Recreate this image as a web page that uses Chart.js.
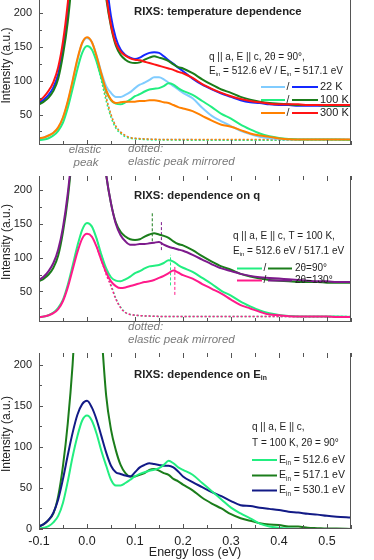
<!DOCTYPE html>
<html><head><meta charset="utf-8">
<script src="https://cdn.jsdelivr.net/npm/chart.js@4/dist/chart.umd.min.js"></script>
<style>
html,body{margin:0;padding:0;background:#fff;width:374px;height:560px;overflow:hidden}
.p{position:absolute;left:0;width:374px}
</style></head><body>
<div class="p" style="top:0;height:176px"><canvas id="c1"></canvas></div>
<div class="p" style="top:176px;height:177px"><canvas id="c2"></canvas></div>
<div class="p" style="top:353px;height:207px"><canvas id="c3"></canvas></div>
<script>
// ---------- data (energy loss in eV, intensity in a.u.) ----------
const energy = [-0.10,-0.09,-0.08,-0.07,-0.06,-0.05,-0.04,-0.03,-0.02,-0.01,0.00,0.01,0.02,0.03,0.04,0.05,0.06,0.07,0.08,0.09,0.10,0.11,0.12,0.13,0.14,0.15,0.16,0.17,0.18,0.19,0.20,0.22,0.24,0.26,0.28,0.30,0.32,0.34,0.36,0.38,0.40,0.42,0.44,0.46,0.48,0.50,0.52,0.55];
const mirrorEnergy = [0.02,0.03,0.04,0.05,0.06,0.07,0.08,0.09,0.10,0.12,0.14,0.16,0.20,0.30,0.40,0.55];

// panel 1: temperature dependence (2theta = 90 deg)
const t22_512  = [14,16,19,23,30,45,68,98,130,155,163,157,137,112,92,82,76,76,79,83,89,94,97,101,105,105,102,97,92,87,82,74,60,48,40,33,26,21,17,15,14,13,13,13,13,13,13,13];
const t22_517  = [67,72,79,90,110,148,200,275,370,445,465,450,400,320,250,195,163,146,138,134,132,134,138,141,142,141,136,130,125,119,114,103,94,87,81,76,71,68,67,65,64,64,63,63,63,63,63,63];
const t100_512 = [12,13,15,19,26,38,60,88,117,141,151,146,128,104,84,71,66,65,68,72,77,80,84,87,88,89,92,96,94,89,85,79,70,61,51,44,35,28,22,18,15.5,14,13,13,13,13,13,12.5];
const t100_517 = [65,69,75,85,103,138,187,260,350,430,450,430,375,290,222,180,152,138,131,127,126,127,131,134,136,134,132,129,124,120,118,111,102,94,87,82,76,72,69,67,66,65,64,64,64,63,63,63];
const t300_512 = [15,16,19,23,31,46,70,100,132,156,164,157,136,110,86,72,67,68,69,69,69,70,70,71,71,70,68,67,64,61,59,55,48,41,35,32,27,22,19,17,14.5,13.5,13,13,13,13,13,13];
const t300_517 = [70,76,85,98,120,158,215,290,380,450,470,450,390,300,228,182,155,143,137,133,131,130,128,126,124,122,120,118,116,113,111,104,95,88,82,77,73,70,68,66,65,65,65,64,64,64,64,64];
const mir22  = [137,110,76,50,33,24,19,16,15,14,13.5,13,13,12.5,12.5,12.5];
const mir100 = [128,100,70,46,30,22,17,15,14,13,12.5,12.5,12,12,12,12];
const mir300 = [136,108,75,50,33,24,19,16,15,14,13.5,13,13,13,13,13];

// panel 2: q dependence (T = 100 K); 2theta = 90 deg spectra are the 100 K spectra above
const q90_512  = t100_512;
const q90_517  = t100_517;
const q130_512 = [12,13,15,18,24,36,56,82,108,128,135,131,116,96,78,65,58,55,56,58,60,62,64,65,67,70,73,77,81,78,74,69,61,54,47,38,30,25,20,16,15,13.5,13,13,13,13,12.5,12.5];
const q130_517 = [67,72,80,92,112,145,195,265,355,430,450,430,370,285,222,180,150,133,124,119,119,120,120,121,122,123,119,116,114,112,110,104,97,90,84,80,76,73,71,70,69,68,67,66,65,65,64,64];
const mirq90  = [128,104,80,60,40,27,19,16,15,14,13.5,13,13,13,13,13];
const mirq130 = [116,96,75,58,39,26,19,16,15,14,13.5,13,13,13,13,12.5];
const markE    = [0.136,0.155,0.174,0.183];
const markLow  = [124,111,59,45];
const markHigh = [167,154,104,87];

// panel 3: incident energy dependence
const ein512 = [0.5,1.5,3.5,8,16,32,58,88,113,132,138,132,116,95,77,60,53,53,56,60,64,67,69,71,72,74,78,83,80,75,72,66,56,46,36,26,19,13,6.5,3,1.5,0.5,0,0,0,0,0,0];
const ein517 = [3,6,11,19,40,77,129,200,300,400,430,400,320,240,162,121,96,78,68,64,64,66,68,72,73,71,68,66,61,58,54,47,38,31,25,18,13,10,7,5.5,5,3,3,1.5,1,0.5,0.5,0];
const ein530 = [3,6,11,20,36,61,90,117,139,152,156,148,133,113,93,77,69,67,65,64,69,75,78,80,79,78,77,77,75,70,64,57,51,45,40,34,29,28,26,24.5,23,21,20,18.5,17.5,16,15,14];

const xTickVals = [-0.1,0,0.1,0.2,0.3,0.4,0.5];
const yTicks12 = [50,100,150,200];
const yTicks3 = [0,50,100,150,200];

// ---------- colours ----------
const C = {lblue:'#80ccff', blue:'#1428ff', lgreen:'#22ee80', dgreen:'#1b7d1b', orange:'#ff8000', red:'#ff1414',
           pink:'#ff1a8a', purple:'#7d1a8c', navy:'#121a86'};
const FF = '"Liberation Sans", Arial, sans-serif';
Chart.defaults.font.family = FF;

const pts = (xs, ys) => xs.map((x,i)=>({x, y: ys[i]}));
const line = (xs, ys, color, extra={}) => Object.assign({data: pts(xs, ys), borderColor: color, borderWidth: 2, pointRadius: 0, cubicInterpolationMode: 'monotone', fill: false}, extra);
const dotted = (ys, color) => line(mirrorEnergy, ys, color, {borderWidth: 1.5, borderDash: [2,2]});
const marker = (i, color) => ({data: [{x: markE[i], y: markLow[i]}, {x: markE[i], y: markHigh[i]}], borderColor: color, borderWidth: 1, borderDash: [3,2], pointRadius: 0, tension: 0});

function rich(ctx, x, y, parts, size, weight) {
  let cx = x;
  ctx.textAlign = 'left'; ctx.textBaseline = 'middle';
  for (const [t, sub] of parts) {
    ctx.font = (weight||'') + ' ' + (sub ? (size*0.6).toFixed(1) : size) + 'px ' + FF;
    ctx.fillText(t, cx, sub ? y + size*0.32 : y);
    cx += ctx.measureText(t).width;
  }
  return cx;
}
function text(ctx, t, x, y, size, opts={}) {
  ctx.font = (opts.style||'') + ' ' + (opts.weight||'') + ' ' + size + 'px ' + FF;
  ctx.fillStyle = opts.color || '#222';
  ctx.textAlign = opts.align || 'left'; ctx.textBaseline = 'middle';
  ctx.fillText(t, x, y);
}
function hline(ctx, x1, x2, y, color) {
  ctx.strokeStyle = color; ctx.lineWidth = 2; ctx.setLineDash([]);
  ctx.beginPath(); ctx.moveTo(x1, y); ctx.lineTo(x2, y); ctx.stroke();
}

function frame(chart, topTicks) {
  const {ctx, chartArea: a, scales: {x, y}} = chart;
  ctx.save();
  ctx.strokeStyle = '#555'; ctx.lineWidth = 1; ctx.setLineDash([]);
  ctx.beginPath();
  ctx.moveTo(a.left + 0.5, a.top); ctx.lineTo(a.left + 0.5, a.bottom);
  ctx.moveTo(a.right - 0.5, a.top); ctx.lineTo(a.right - 0.5, a.bottom);
  ctx.moveTo(a.left, a.bottom - 0.5); ctx.lineTo(a.right, a.bottom - 0.5);
  for (let k = 0; k <= 13; k++) {
    const v = -0.1 + k*0.05;
    const px = Math.round(x.getPixelForValue(v)) + 0.5;
    const len = (k % 2 === 0) ? 5 : 4;
    ctx.moveTo(px, a.bottom); ctx.lineTo(px, a.bottom - len);
    if (topTicks) { ctx.moveTo(px, a.top); ctx.lineTo(px, a.top + len); }
  }
  for (let v = 0; v <= 225; v += 25) {
    if (v < y.min || v > y.max) continue;
    const py = Math.round(y.getPixelForValue(v)) + 0.5;
    const len = (v % 50 === 0) ? 4 : 3;
    ctx.moveTo(a.left, py); ctx.lineTo(a.left + len, py);
  }
  ctx.stroke();
  ctx.save();
  ctx.translate(7, (a.top + a.bottom)/2 - 7);
  ctx.rotate(-Math.PI/2);
  text(ctx, 'Intensity (a.u.)', 0, 0, 12, {align: 'center'});
  ctx.restore();
  ctx.restore();
}

function makeChart(id, datasets, yMin, yMax, yTicks, showX, deco) {
  return new Chart(document.getElementById(id), {
    type: 'line',
    data: {datasets},
    options: {
      responsive: true, maintainAspectRatio: false, animation: false, devicePixelRatio: 1,
      layout: {padding: {left: 0, right: 23, top: 0, bottom: 0}},
      plugins: {legend: {display: false}, tooltip: {enabled: false}},
      scales: {
        x: {type: 'linear', min: -0.1, max: 0.55, display: showX,
            grid: {display: false, drawTicks: false}, border: {display: false},
            ticks: {color: '#222', font: {size: 12.5}, padding: 5, callback: v => v.toFixed(1)},
            afterBuildTicks: s => { s.ticks = xTickVals.map(v => ({value: v})); },
            afterFit: s => { s.height = 31; s.paddingLeft = 0; s.paddingRight = 0; }},
        y: {type: 'linear', min: yMin, max: yMax,
            grid: {display: false, drawTicks: false}, border: {display: false},
            ticks: {color: '#222', font: {size: 11}, padding: 7},
            afterBuildTicks: s => { s.ticks = yTicks.map(v => ({value: v})); },
            afterFit: s => { s.width = 39; s.paddingTop = 0; s.paddingBottom = 0; }}
      }
    },
    plugins: [{id: 'deco' + id, afterDraw: deco}]
  });
}

// ---------- panel 1 ----------
makeChart('c1', [
  line(energy, t300_512, C.orange),
  line(energy, t300_517, C.red),
  line(energy, t100_517, C.dgreen),
  line(energy, t100_512, C.lgreen),
  line(energy, t22_517, C.blue),
  line(energy, t22_512, C.lblue),
  dotted(mir300, C.orange),
  dotted(mir100, C.lgreen),
  dotted(mir22, C.lblue)
], 5, 219.1, yTicks12, false, chart => {
  const ctx = chart.ctx;
  frame(chart, false);
  ctx.save();
  text(ctx, 'RIXS: temperature dependence', 134, 12, 11.3, {weight: 'bold'});
  text(ctx, 'q || a, E || c, 2\u03b8 = 90\u00b0,', 209, 57, 10);
  ctx.fillStyle = '#222';
  rich(ctx, 209, 71, [['E',0],['in',1],[' = 512.6 eV / E',0],['in',1],[' = 517.1 eV',0]], 10);
  const rows = [[87, C.lblue, C.blue, '22 K'], [100, C.lgreen, C.dgreen, '100 K'], [113, C.orange, C.red, '300 K']];
  for (const [yy, c1, c2, lab] of rows) {
    hline(ctx, 261, 285, yy, c1);
    text(ctx, '/', 288, yy, 10.5, {align: 'center'});
    hline(ctx, 292, 318, yy, c2);
    text(ctx, lab, 320, yy, 11);
  }
  const g = {style: 'italic', color: '#7a7a7a'};
  text(ctx, 'elastic', 85, 150, 11.5, Object.assign({align: 'center'}, g));
  text(ctx, 'peak', 86, 163, 11.5, Object.assign({align: 'center'}, g));
  text(ctx, 'dotted:', 128, 149, 11.5, g);
  text(ctx, 'elastic peak mirrored', 128, 162, 11.5, g);
  ctx.restore();
});

// ---------- panel 2 ----------
makeChart('c2', [
  line(energy, q130_512, C.pink),
  line(energy, q130_517, C.purple),
  line(energy, q90_517, C.dgreen),
  line(energy, q90_512, C.lgreen),
  dotted(mirq130, C.pink),
  dotted(mirq90, C.lgreen),
  marker(0, C.dgreen), marker(1, C.purple), marker(2, C.lgreen), marker(3, C.pink)
], 5, 220.3, yTicks12, false, chart => {
  const ctx = chart.ctx;
  frame(chart, true);
  ctx.save();
  text(ctx, 'RIXS: dependence on q', 134, 20, 11.3, {weight: 'bold'});
  text(ctx, 'q || a, E || c, T = 100 K,', 233, 60.7, 10);
  ctx.fillStyle = '#222';
  rich(ctx, 233, 75, [['E',0],['in',1],[' = 512.6 eV / 517.1 eV',0]], 10);
  const rows = [[92.5, C.lgreen, C.dgreen, '2\u03b8=90\u00b0'], [104.5, C.pink, C.purple, '2\u03b8=130\u00b0']];
  for (const [yy, c1, c2, lab] of rows) {
    hline(ctx, 237, 262, yy, c1);
    text(ctx, '/', 265, yy, 10, {align: 'center'});
    hline(ctx, 268, 292, yy, c2);
    text(ctx, lab, 295, yy, 10);
  }
  const g = {style: 'italic', color: '#7a7a7a'};
  text(ctx, 'dotted:', 128, 151, 11.5, g);
  text(ctx, 'elastic peak mirrored', 128, 163.3, 11.5, g);
  ctx.restore();
});

// ---------- panel 3 ----------
makeChart('c3', [
  line(energy, ein512, C.lgreen),
  line(energy, ein530, C.navy),
  line(energy, ein517, C.dgreen)
], 0, 214.2, yTicks3, true, chart => {
  const ctx = chart.ctx;
  frame(chart, true);
  ctx.save();
  ctx.fillStyle = '#222';
  rich(ctx, 134, 22, [['RIXS: dependence on E',0],['in',1]], 11.3, 'bold');
  text(ctx, 'q || a, E || c,', 252, 74.5, 10);
  text(ctx, 'T = 100 K, 2\u03b8 = 90\u00b0', 252, 90, 10);
  const rows = [[107, C.lgreen, ' = 512.6 eV'], [122.5, C.dgreen, ' = 517.1 eV'], [137.5, C.navy, ' = 530.1 eV']];
  for (const [yy, c, lab] of rows) {
    hline(ctx, 252, 277, yy, c);
    ctx.fillStyle = '#222';
    rich(ctx, 279, yy, [['E',0],['in',1],[lab,0]], 10.5);
  }
  text(ctx, 'Energy loss (eV)', 195, 199.7, 12.5, {align: 'center'});
  ctx.restore();
});
</script>
</body></html>
